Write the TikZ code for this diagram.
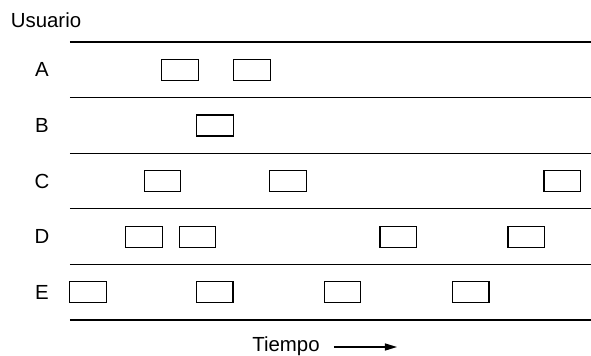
\documentclass[tikz,border=0pt]{standalone}
\usepackage{fontspec}
\setmainfont{Liberation Sans}
\usetikzlibrary{arrows.meta}

\begin{document}
\begin{tikzpicture}[x=0.5pt, y=-0.5pt,
    every node/.style={font=\fontsize{10.2}{12}\selectfont},
    slot/.style={draw, line width=0.6pt, minimum width=18.25pt, minimum height=10.5pt, inner sep=0pt},
    lane/.style={line width=0.6pt}]
  \useasboundingbox (0,0) rectangle (591,355);
  % titulo
  \node (usuario) at (46,20) {Usuario};
  % lineas horizontales
  \foreach \i in {0,...,5}
  \draw[lane] (70,42+55.6*\i) -- (591,42+55.6*\i);
  % usuarios y sus intervalos
  \foreach \r/\lab/\xs in {0/A/{180,252}, 1/B/{215}, 2/C/{162.5,288,562.3},
                           3/D/{144,197.5,398.3,526.3}, 4/E/{88,214.7,342.5,470.7}}
  {
    \node (u\lab) at (42,69.8+55.6*\r) {\lab};
    \foreach \x [count=\k] in \xs
    \node[slot] (b\lab\k) at (\x,69.8+55.6*\r) {};
  }
  % eje de tiempo
  \node[anchor=base] (tiempo) at (286,351.5) {Tiempo};
  \coordinate (t0) at (334,347);
  \coordinate (t1) at (397,347);
  \draw[line width=0.6pt, -{Triangle[length=6pt, width=3.5pt]}] (t0) -- (t1);
\end{tikzpicture}
\end{document}
